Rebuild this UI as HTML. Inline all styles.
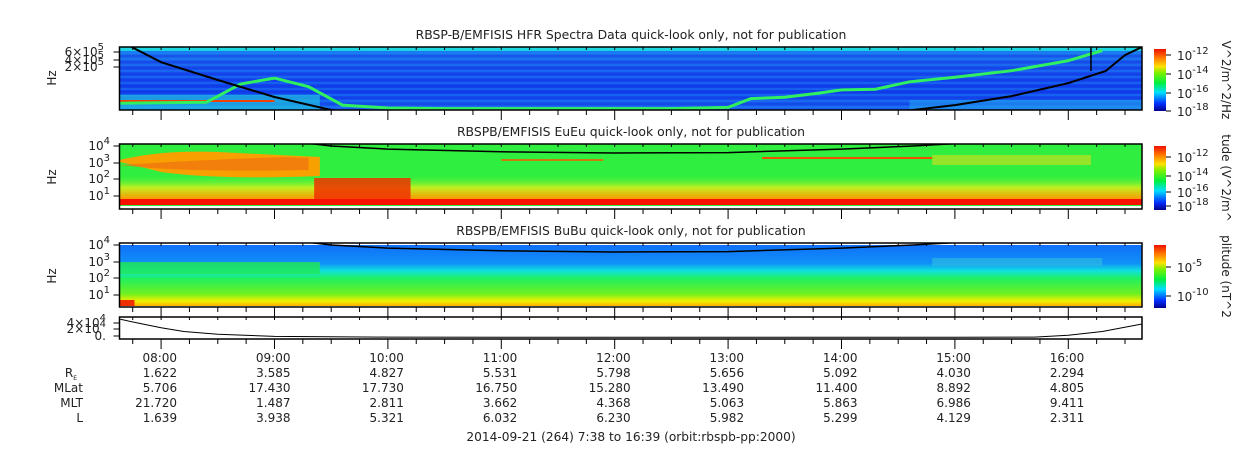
<!DOCTYPE html>
<html><head><meta charset="utf-8"><style>
body{margin:0;background:#fff;width:1250px;height:449px;overflow:hidden;font-family:"Liberation Sans","DejaVu Sans",sans-serif}
svg text{font-family:"DejaVu Sans","Liberation Sans",sans-serif;fill:#222}
</style></head><body>
<svg id="c" width="1250" height="449">
<defs>
<linearGradient id="cb" x1="0" y1="1" x2="0" y2="0">
<stop offset="0" stop-color="#00008c"/><stop offset="0.12" stop-color="#0030ff"/><stop offset="0.3" stop-color="#00e0ff"/><stop offset="0.45" stop-color="#00f040"/><stop offset="0.62" stop-color="#80f000"/><stop offset="0.72" stop-color="#ffe000"/><stop offset="0.85" stop-color="#ff8000"/><stop offset="1" stop-color="#f01000"/></linearGradient>
<linearGradient id="p1bg" x1="0" y1="0" x2="0" y2="1">
<stop offset="0" stop-color="#10d8f0"/><stop offset="0.08" stop-color="#1870f0"/><stop offset="0.3" stop-color="#1850f0"/><stop offset="0.7" stop-color="#1040f0"/><stop offset="1" stop-color="#1a60f0"/></linearGradient>
<linearGradient id="p2bot" x1="0" y1="0" x2="0" y2="1">
<stop offset="0" stop-color="#40f040" stop-opacity="0"/><stop offset="0.5" stop-color="#c0f020"/><stop offset="1" stop-color="#ff9000"/></linearGradient>
<linearGradient id="p3bg" x1="0" y1="0" x2="0" y2="1">
<stop offset="0" stop-color="#1070f8"/><stop offset="0.3" stop-color="#1090f8"/><stop offset="0.42" stop-color="#10e0e0"/><stop offset="0.55" stop-color="#20f060"/><stop offset="0.8" stop-color="#70f020"/><stop offset="0.92" stop-color="#f0f000"/><stop offset="1" stop-color="#ffb000"/></linearGradient>
</defs>
<g id="g"></g>
</svg>
<script>
// ---- data ----
const hourTicks = [8,9,10,11,12,13,14,15,16];
const hourLabels = ["08:00","09:00","10:00","11:00","12:00","13:00","14:00","15:00","16:00"];
const reVals = ["1.622","3.585","4.827","5.531","5.798","5.656","5.092","4.030","2.294"];
const mlatVals = ["5.706","17.430","17.730","16.750","15.280","13.490","11.400","8.892","4.805"];
const mltVals = ["21.720","1.487","2.811","3.662","4.368","5.063","5.863","6.986","9.411"];
const lVals = ["1.639","3.938","5.321","6.032","6.230","5.982","5.299","4.129","2.311"];
const fceTimes = [7.74,8,8.5,9,9.5,10,11,12,13,14,14.63,15,15.5,16,16.33,16.5,16.65];
const fceHz = [770000,270000,79000,24500,10000,6500,4500,3800,4000,6500,10000,14000,26000,64000,147000,440000,770000];
const uhrTimes = [7.64,8,8.4,8.7,9.0,9.3,9.6,10,10.5,11,12,12.5,13,13.2,13.5,13.8,14,14.3,14.6,15,15.5,16,16.3];
const uhrHz = [16000,16500,17000,60000,90000,50000,14000,11500,11000,11000,11000,11000,12000,22000,24000,32000,40000,42000,70000,95000,150000,300000,600000];
const densTimes = [7.64,7.8,8,8.2,8.5,9,10,12,15,15.7,16,16.3,16.65];
const densVals = [40000,32000,22000,14000,8000,3500,2000,1500,1500,2000,6000,14000,30000];
// ---- scales ----
const T0=7.6333, T1=16.65, X0=119.5, X1=1142;
const tx=t=>X0+(t-T0)/(T1-T0)*(X1-X0);
const y1=f=>110-(Math.log10(f)-4)/(Math.log10(7.7e5)-4)*63;
const y2=f=>146+(4-Math.log10(f))*16.6;
const y3=f=>245+(4-Math.log10(f))*16.6;
const y4=v=>338-v/45000*21;
const g=document.getElementById('g');
const NS='http://www.w3.org/2000/svg';
function el(tag,attrs,parent){const e=document.createElementNS(NS,tag);for(const k in attrs)e.setAttribute(k,attrs[k]);(parent||g).appendChild(e);return e;}
function txt(x,y,s,anchor,size,parent){const e=el('text',{x:x,y:y,'text-anchor':anchor||'middle','font-size':size||12},parent);e.textContent=s;return e;}
function clip(id,top,bot){const cp=el('clipPath',{id:id});el('rect',{x:X0,y:top,width:X1-X0,height:bot-top},cp);}
function poly(ts,vs,fy,attrs,parent){const pts=ts.map((t,i)=>tx(t).toFixed(1)+','+fy(vs[i]).toFixed(1)).join(' ');return el('polyline',Object.assign({points:pts,fill:'none'},attrs),parent);}

// ---- titles ----
let e;
e=txt(631,39,"RBSP-B/EMFISIS  HFR Spectra Data quick-look only, not for publication",'middle',12.4);

e=txt(631,136,"RBSPB/EMFISIS  EuEu quick-look only, not for publication",'middle',12.4);

e=txt(631,235,"RBSPB/EMFISIS  BuBu quick-look only, not for publication",'middle',12.4);


// ---- panel 1 ----
clip('c1',47,110);
const p1=el('g',{'clip-path':'url(#c1)'});


el('rect',{x:X0,y:47,width:X1-X0,height:63,fill:'url(#p1bg)'},p1);
for(let yy=53;yy<108;yy+=3){el('line',{x1:X0,x2:X1,y1:yy,y2:yy,stroke:(yy%2?'#20a0f0':'#1030d0'),'stroke-width':1,opacity:0.6},p1);}
el('rect',{x:X0,y:95,width:tx(9.4)-X0,height:15,fill:'#20c0e0',opacity:0.7},p1);
el('rect',{x:X0,y:100,width:tx(9.0)-X0,height:2,fill:'#f04000'},p1);
el('rect',{x:tx(14.6),y:100,width:X1-tx(14.6),height:10,fill:'#20a0f0',opacity:0.6},p1);
el('rect',{x:X0,y:47,width:X1-X0,height:4,fill:'#20e0e0',opacity:0.8},p1);
let u=poly(uhrTimes,uhrHz,y1,{stroke:'#30f060','stroke-width':3},p1);

let f1=poly(fceTimes,fceHz,y1,{stroke:'#000','stroke-width':2},p1);

el('line',{x1:tx(16.2),x2:tx(16.2),y1:47,y2:y1(147000),stroke:'#000','stroke-width':1.5},p1);

// ---- panel 2 ----
clip('c2',144,209);
const p2=el('g',{'clip-path':'url(#c2)'});


el('rect',{x:X0,y:144,width:X1-X0,height:62,fill:'#30ee40'},p2);
el('rect',{x:X0,y:175,width:X1-X0,height:25,fill:'url(#p2bot)'},p2);
el('path',{d:`M${X0} 160 Q${tx(8)} 150 ${tx(8.5)} 152 L${tx(9.4)} 157 L${tx(9.4)} 176 Q${tx(8.5)} 180 ${tx(8)} 172 Q${X0+15} 165 ${X0} 162 Z`,fill:'#f8a000'},p2);
el('path',{d:`M${X0} 165 Q${tx(8.3)} 160 ${tx(9.1)} 157 L${tx(9.3)} 158 L${tx(9.3)} 170 Q${tx(8.5)} 172 ${X0+30} 168 Z`,fill:'#f07010',opacity:0.7},p2);
el('rect',{x:tx(9.35),y:178,width:tx(10.2)-tx(9.35),height:22,fill:'#f03000',opacity:0.85},p2);
el('rect',{x:tx(14.8),y:155,width:tx(16.2)-tx(14.8),height:10,fill:'#c0e020',opacity:0.7},p2);
el('rect',{x:tx(13.3),y:157,width:tx(14.8)-tx(13.3),height:2,fill:'#f05000'},p2);
el('rect',{x:tx(11.0),y:159,width:tx(11.9)-tx(11.0),height:2,fill:'#f06000',opacity:0.8},p2);
el('rect',{x:X0,y:199,width:X1-X0,height:6,fill:'#f81000'},p2);
let f2=poly(fceTimes,fceHz,y2,{stroke:'#000','stroke-width':1.5},p2);


// ---- panel 3 ----
clip('c3',243,307);
const p3=el('g',{'clip-path':'url(#c3)'});


el('rect',{x:X0,y:245,width:X1-X0,height:61,fill:'url(#p3bg)'},p3);
el('rect',{x:X0,y:262,width:tx(9.4)-X0,height:12,fill:'#20e850',opacity:0.8},p3);
el('rect',{x:tx(14.8),y:258,width:tx(16.3)-tx(14.8),height:8,fill:'#30c0e0',opacity:0.6},p3);
el('rect',{x:X0,y:300,width:15,height:6,fill:'#f03000'},p3);
let f3=poly(fceTimes,fceHz,y3,{stroke:'#000','stroke-width':1.5},p3);


// ---- panel 4 ----
let d=poly(densTimes,densVals,y4,{stroke:'#000','stroke-width':1});


// ---- frames, ticks ----
const frames=[[47,110],[144,209],[243,307],[317,339]];
frames.forEach((fr,i)=>{
  const r=el('rect',{x:X0,y:fr[0],width:X1-X0,height:fr[1]-fr[0],fill:'none',stroke:'#000','stroke-width':1.5});
  
  for(let t=7.75;t<T1;t+=0.25){
    const major=Math.abs(t-Math.round(t))<0.01;
    el('line',{x1:tx(t),x2:tx(t),y1:fr[1],y2:fr[1]+(major?10:5),stroke:'#000','stroke-width':1});
    el('line',{x1:tx(t),x2:tx(t),y1:fr[0],y2:fr[0]+3,stroke:'#000','stroke-width':1});
  }
});
// y labels
function ylab(y,s,exp,x){const t=el('text',{x:x||110,y:y+4,'text-anchor':'end','font-size':12});t.textContent=s;if(exp){const sp=el('tspan',{dy:-6,'font-size':10},t);sp.textContent=exp;}el('line',{x1:X0-6,x2:X0,y1:y,y2:y,stroke:'#000'});}
ylab(67,"2×10","5",104);ylab(60,"4×10","5",104);ylab(52,"6×10","5",104);
[[1,196],[2,179],[3,163],[4,146]].forEach(a=>{ylab(a[1],"10",String(a[0]));ylab(a[1]+99,"10",String(a[0]));});
ylab(323,"4×10","4",106);ylab(329,"2×10","4",106);ylab(336,"0.",null,106);
[78,177,276].forEach((y,i)=>{const t=el('text',{x:56,y:y,'text-anchor':'middle','font-size':12,transform:`rotate(-90 56 ${y})`});t.textContent='Hz';});

// ---- colorbars ----
const cbs=[[49,111,["10","-12",55],["10","-14",74],["10","-16",93],["10","-18",111],"V^2/m^2/Hz"],[146,210,["10","-12",157],["10","-14",176],["10","-16",192],["10","-18",206],"tude (V^2/m^"],[245,308,["10","-5",267],["10","-10",296],"plitude (nT^2"]];
cbs.forEach((c,i)=>{
  const r=el('rect',{x:1154,y:c[0],width:12,height:c[1]-c[0],fill:'url(#cb)'});
  
  for(let k=2;k<c.length-1;k++){const L=c[k];el('line',{x1:1166,x2:1171,y1:L[2],y2:L[2],stroke:'#000'});const t=el('text',{x:1177,y:L[2]+5,'font-size':12});t.textContent=L[0];const sp=el('tspan',{dy:-6,'font-size':10},t);sp.textContent=L[1];}
  const mid=(c[0]+c[1])/2;
  const t=el('text',{x:1222,y:mid,'text-anchor':'middle','font-size':12,transform:`rotate(90 1222 ${mid})`});t.textContent=c[c.length-1];
  
});

// ---- ephemeris table ----
const rows=[[358,hourLabels,""],[373,reVals,"R"],[388,mlatVals,"MLat"],[403,mltVals,"MLT"],[418,lVals,"L"]];
rows.forEach((r,ri)=>{
  r[1].forEach((v,i)=>{const t=txt(tx(hourTicks[i])+16,r[0]+4,v,'end',12);});
  if(r[2]){const t=txt(83,r[0]+4,r[2],'end',12);if(r[2]==='R'){t.setAttribute('x',77);const s=el('tspan',{dy:3,'font-size':6},t);s.textContent='E';}}
});
e=txt(631,441,"2014-09-21 (264) 7:38 to 16:39 (orbit:rbspb-pp:2000)",'middle',12.2);

</script>
</body></html>
